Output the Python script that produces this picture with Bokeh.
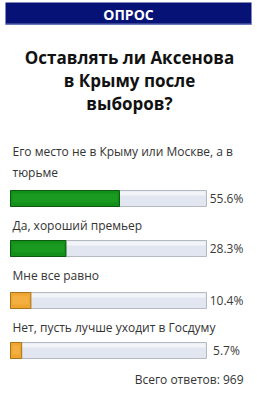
from bokeh.plotting import figure
from bokeh.models import Range1d
from bokeh.core.properties import value
from bokeh.embed import file_html
from bokeh.resources import INLINE

header = "ОПРОС"
title_lines = ["Оставлять ли Аксенова", "в Крыму после", "выборов?"]
answers = [
    ["Его место не в Крыму или Москве, а в", "тюрьме"],
    ["Да, хороший премьер"],
    ["Мне все равно"],
    ["Нет, пусть лучше уходит в Госдуму"],
]
percents = [55.6, 28.3, 10.4, 5.7]
pct_labels = ["55.6%", "28.3%", "10.4%", "5.7%"]
fill_colors = ["#12901a", "#12901a", "#f0a530", "#f0a530"]
edge_colors = ["#0b5a10", "#0b5a10", "#a87418", "#a87418"]
light_colors = ["#2fb030", "#2fb030", "#f8c45c", "#f8c45c"]
total_label = "Всего ответов: 969"

W, H = 257, 400
FONT = "Open Sans"
BAR_X0, BAR_W = 10, 196
bar_tops = [190, 240, 292, 342]
label_y = [[151, 172], [225], [275], [327]]
BAR_H = 16

p = figure(width=W, height=H, output_backend="svg", toolbar_location=None,
           x_range=Range1d(0, W), y_range=Range1d(H, 0),
           min_border=0)
p.axis.visible = False
p.grid.visible = False
p.outline_line_color = None
p.background_fill_color = "white"
p.border_fill_color = "white"

# header
p.quad(left=[5], right=[251], top=[2], bottom=[24], fill_color="#061276", line_color=None)
p.quad(left=[5], right=[251], top=[23], bottom=[24.5], fill_color="#6a78b8", line_color=None)
p.text(x=[128], y=[13.5], text=[header], text_font=value(FONT), text_font_size="14px",
       text_font_style="bold", text_color="white", text_align="center", text_baseline="middle")

# title
for i, t in enumerate(title_lines):
    p.text(x=[129], y=[57 + i * 23], text=[t], text_font=value(FONT), text_font_size="17px",
           text_font_style="bold", text_color="#111111", text_align="center", text_baseline="middle")

# answers
for i, lines in enumerate(answers):
    for j, line in enumerate(lines):
        p.text(x=[12], y=[label_y[i][j]], text=[line], text_font=value(FONT), text_font_size="12px",
               text_color="#333333", text_align="left", text_baseline="middle")
    top = bar_tops[i]
    bot = top + BAR_H
    # track
    p.quad(left=[BAR_X0], right=[BAR_X0 + BAR_W], top=[top], bottom=[bot],
           fill_color="#e1e6f0", line_color="#b4b9c2", line_width=1)
    p.quad(left=[BAR_X0 + 1], right=[BAR_X0 + BAR_W - 1], top=[top + 1], bottom=[top + 5],
           fill_color="#f2f4f8", line_color=None)
    # value bar
    right = BAR_X0 + percents[i] / 100 * BAR_W
    p.quad(left=[BAR_X0], right=[right], top=[top], bottom=[bot],
           fill_color=fill_colors[i], line_color=edge_colors[i], line_width=1)
    p.quad(left=[BAR_X0 + 2], right=[right - 2], top=[top + 3], bottom=[bot - 4],
           fill_color=light_colors[i], line_color=None, fill_alpha=0.35)
    p.text(x=[226], y=[top + BAR_H / 2], text=[pct_labels[i]], text_font=value(FONT),
           text_font_size="12px", text_color="#3a3a3a", text_align="center", text_baseline="middle")

p.text(x=[243], y=[379], text=[total_label], text_font=value(FONT), text_font_size="12px",
       text_color="#333333", text_align="right", text_baseline="middle")

open("out.html", "w").write(file_html(p, INLINE))
